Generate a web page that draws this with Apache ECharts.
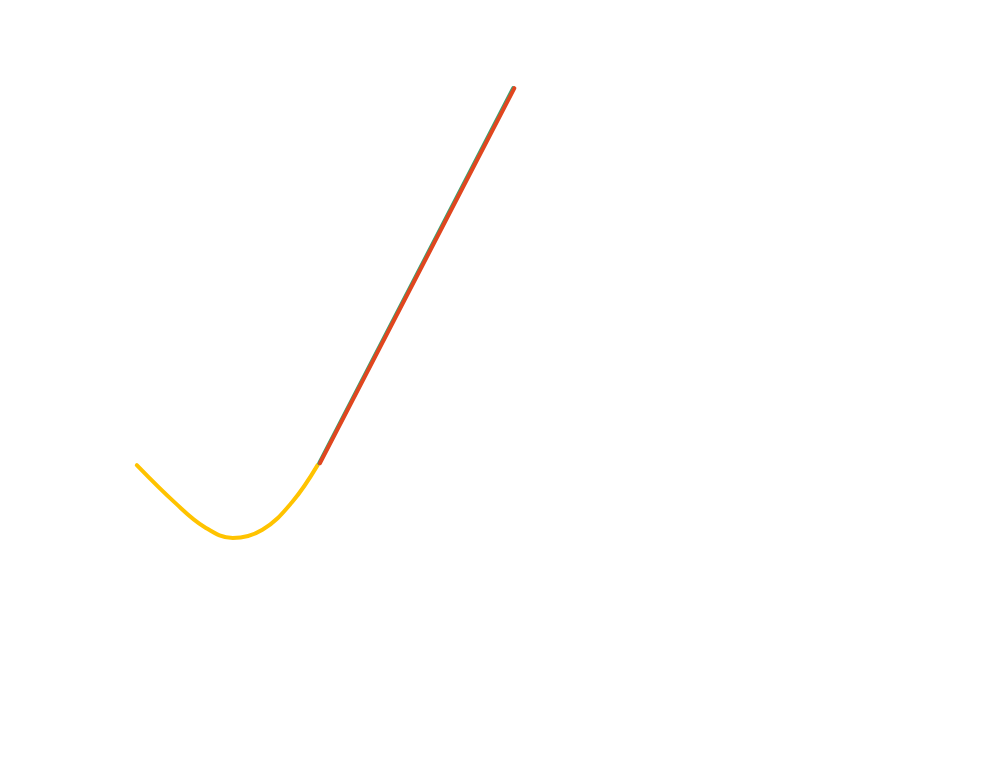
<!DOCTYPE html>
<html>
<head>
<meta charset="utf-8">
<script src="https://cdn.jsdelivr.net/npm/echarts@6/dist/echarts.min.js"></script>
<style>html,body{margin:0;padding:0;background:#fff;}#chart{width:1000px;height:760px;}</style>
</head>
<body>
<div id="chart"></div>
<script>
// Curve (yellow) points: [x, y]
var curveX = [0.46, 0.94, 1.31, 1.66, 2.03, 2.40, 2.72];
var curveY = [3.67, 3.08, 2.70, 2.53, 2.66, 3.09, 3.67];
// Straight rising line (red) and the one beneath it (teal)
var redX = [2.75, 5.18];
var redY = [3.70, 9.56];
var tealX = [2.74, 5.165];
var tealY = [3.70, 9.56];

function pairs(xs, ys) { return xs.map(function (x, i) { return [x, ys[i]]; }); }

var chart = echarts.init(document.getElementById('chart'));
chart.setOption({
  animation: false,
  backgroundColor: '#ffffff',
  grid: { left: 100, right: 100, top: 60, bottom: 60 },
  xAxis: { type: 'value', min: 0, max: 10, show: false },
  yAxis: { type: 'value', min: 0, max: 10, show: false },
  series: [
    {
      type: 'line', data: pairs(curveX, curveY), smooth: 0.4, showSymbol: false,
      lineStyle: { color: '#FFC300', width: 4, cap: 'round' }
    },
    {
      type: 'line', data: pairs(tealX, tealY), showSymbol: false,
      lineStyle: { color: '#3BA272', width: 4, cap: 'round' }
    },
    {
      type: 'line', data: pairs(redX, redY), showSymbol: false,
      lineStyle: { color: '#E0461F', width: 4, cap: 'round' }
    }
  ]
});
</script>
</body>
</html>
